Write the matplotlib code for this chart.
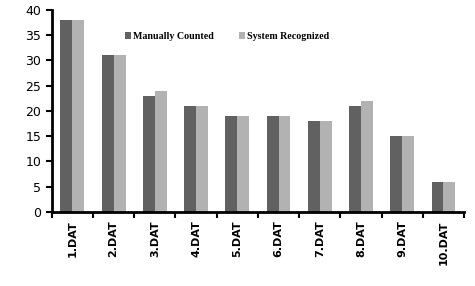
import matplotlib
matplotlib.use("Agg")
import matplotlib.pyplot as plt
import numpy as np

categories = ["1.DAT", "2.DAT", "3.DAT", "4.DAT", "5.DAT", "6.DAT", "7.DAT", "8.DAT", "9.DAT", "10.DAT"]
manual = [38, 31, 23, 21, 19, 19, 18, 21, 15, 6]
system = [38, 31, 24, 21, 19, 19, 18, 22, 15, 6]

fig = plt.figure(figsize=(4.75, 2.86), dpi=100)
ax = fig.add_axes([0.109, 0.259, 0.868, 0.706])

x = np.arange(len(categories))
w = 0.29
ax.bar(x - w/2, manual, w, color="#616161", label="Manually Counted")
ax.bar(x + w/2, system, w, color="#b2b2b2", label="System Recognized")

ax.set_xlim(-0.5, len(categories) - 0.5)
ax.set_ylim(0, 40)
ax.set_yticks(range(0, 41, 5))
ax.set_xticks(x)
ax.set_xticklabels(categories, rotation=90, fontweight="bold", fontsize=8)
ax.set_xticks(np.arange(-0.5, len(categories)), minor=True)
ax.tick_params(axis="x", which="major", length=0, pad=6)
ax.tick_params(axis="x", which="minor", length=4, width=1.5, direction="out")
ax.tick_params(axis="y", length=4, width=1.5, direction="out", labelsize=9)
for s in ["top", "right"]:
    ax.spines[s].set_visible(False)
for s in ["left", "bottom"]:
    ax.spines[s].set_linewidth(2)

leg = ax.legend(loc="upper left", bbox_to_anchor=(0.155, 0.935), ncol=2, frameon=False,
                prop={"family": "Liberation Serif", "weight": "bold", "size": 7.2},
                handlelength=0.6, handleheight=0.6, handletextpad=0.2, columnspacing=2.6)

fig.savefig("out.png", dpi=100)
